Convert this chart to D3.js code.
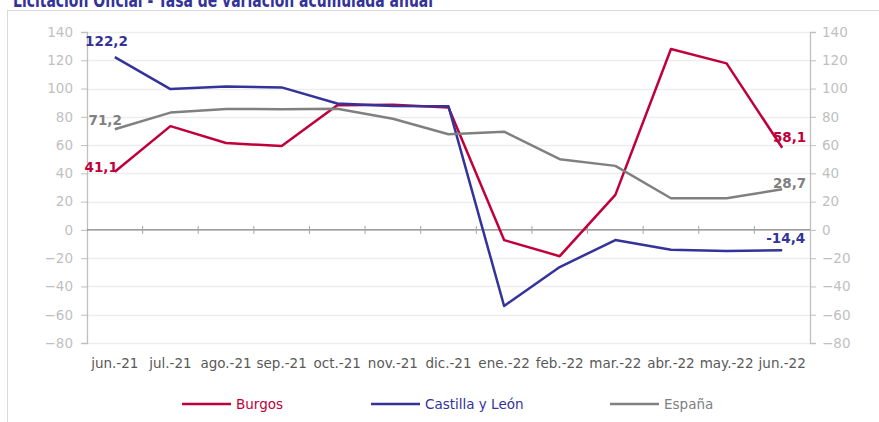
<!DOCTYPE html>
<html>
<head>
<meta charset="utf-8">
<script src="https://cdn.jsdelivr.net/npm/d3@7"></script>
<style>
  body { margin:0; background:#fff; }
  svg text { font-family:"DejaVu Sans", Verdana, sans-serif; }
</style>
</head>
<body>
<div id="chart"></div>
<script>

var months   = ["jun.-21","jul.-21","ago.-21","sep.-21","oct.-21","nov.-21","dic.-21",
                "ene.-22","feb.-22","mar.-22","abr.-22","may.-22","jun.-22"];
var burgos   = [41.1, 73.4, 61.5, 59.3, 88.2, 88.6, 86.6, -7.2, -18.6, 24.8, 128.0, 117.8, 58.1];
var castilla = [122.2, 99.6, 101.5, 100.8, 89.4, 87.6, 87.4, -53.8, -26.3, -7.2, -14.0, -15.0, -14.4];
var espana   = [71.2, 83.0, 85.6, 85.4, 85.7, 78.6, 67.7, 69.5, 50.0, 45.3, 22.4, 22.4, 28.7];
var yTicks   = [-80,-60,-40,-20,0,20,40,60,80,100,120,140];

var series = [
  {name:"Burgos",           values:burgos,   color:"#C0003C", label:"58,1",  first:"41,1"},
  {name:"Castilla y León",  values:castilla, color:"#333399", label:"-14,4", first:"122,2"},
  {name:"España",           values:espana,   color:"#808080", label:"28,7",  first:"71,2"}
];


var W = 879, H = 422;
var margin = {top:32, right:69, bottom:79, left:87};   // plot box 87..810 x 32..343

function plotWidth(){  return W - margin.left - margin.right; }
function plotHeight(){ return H - margin.top  - margin.bottom; }

var width  = plotWidth();
var height = plotHeight();

var svg = d3.select("#chart")
  .append("svg")
    .attr("width",W)
    .attr("height",H);

//......................... Frame + title .......................................
svg.append("rect")
  .attr("x",7.5).attr("y",10.5)
  .attr("width",W).attr("height",H)
  .attr("fill","none")
  .attr("stroke","#D9D9D9");

svg.append("text")
  .attr("x",13).attr("y",7)
  .attr("font-size",20)
  .attr("font-weight","bold")
  .attr("fill","#333399")
  .attr("textLength",420)
  .attr("lengthAdjust","spacingAndGlyphs")
  .text("Licitación Oficial - Tasa de variación acumulada anual");
//-------------------------------------------------------------------------------

var g = svg.append("g")
  .attr("transform","translate("+margin.left+","+margin.top+")");

var x = d3.scaleBand()
  .domain(months)
  .range([0,width]);

var y = d3.scaleLinear()
  .domain([-80,140])
  .range([height,0]);

// grid
g.append("g")
  .attr("class","grid")
  .selectAll("line")
  .data(yTicks.filter(function(d){return d != 0;}))
  .enter()
  .append("line")
  .attr("x1",0).attr("x2",width)
  .attr("y1",function(d){return Math.round(y(d))+0.5})
  .attr("y2",function(d){return Math.round(y(d))+0.5})
  .attr("stroke","#EDEDED")
  .attr("stroke-width",1.5);

// left + right axes
var yLeft = d3.axisLeft(y).tickValues(yTicks).tickSize(6).tickPadding(8);
var yRight = d3.axisRight(y).tickValues(yTicks).tickSize(6).tickPadding(6);

g.append("g").attr("class","y-left").call(yLeft);
g.append("g").attr("class","y-right")
  .attr("transform","translate("+width+",0)")
  .call(yRight);

g.selectAll(".y-left, .y-right")
  .call(function(s){
    s.select(".domain").attr("stroke","#BFBFBF").attr("stroke-width",1.3);
    s.selectAll(".tick line").attr("stroke","#BFBFBF");
    s.selectAll(".tick text")
      .attr("fill","#BFBFBF")
      .attr("font-size",13.5)
      .style("font-family","DejaVu Sans, sans-serif");
  });

// zero line with category ticks
var x0 = g.append("g")
  .attr("class","zero")
  .attr("transform","translate(0,"+y(0)+")");

x0.append("line")
  .attr("x1",0).attr("x2",width)
  .attr("stroke","#808080")
  .attr("stroke-width",1.3);

x0.selectAll(".ctick")
  .data(months.slice(1))
  .enter()
  .append("line")
  .attr("x1",function(d){return x(d)}).attr("x2",function(d){return x(d)})
  .attr("y1",-4).attr("y2",4)
  .attr("stroke","#A6A6A6");

// month labels at bottom
g.append("g")
  .selectAll("text")
  .data(months)
  .enter()
  .append("text")
  .attr("x",function(d){return x(d)+x.bandwidth()/2})
  .attr("y",height+25)
  .attr("text-anchor","middle")
  .attr("font-size",13.5)
  .attr("fill","#595959")
  .text(function(d){return d});

//......................... Lines ...............................................
var line = d3.line()
  .x(function(d,i){return x(months[i])+x.bandwidth()/2})
  .y(function(d){return y(d)});

g.append("g")
  .attr("class","lines")
  .selectAll("path")
  .data(series)
  .enter()
  .append("path")
  .attr("d",function(s){return line(s.values)})
  .attr("fill","none")
  .attr("stroke",function(s){return s.color})
  .attr("stroke-width",2.5)
  .attr("stroke-linejoin","round");

// end labels
var last = months.length-1;
var lastX = x(months[last])+x.bandwidth()/2;
var firstX = x(months[0])+x.bandwidth()/2;

var firstOff = {"Burgos":[3,0], "Castilla y León":[13,-11], "España":[7,-4]};
var lastOff  = {"Burgos":[24,-6], "Castilla y León":[23,-7], "España":[24,-1]};

g.append("g")
  .selectAll("text")
  .data(series)
  .enter()
  .append("text")
  .attr("x",function(s){return firstX+firstOff[s.name][0]})
  .attr("y",function(s){return y(s.values[0])+firstOff[s.name][1]})
  .attr("text-anchor","end")
  .attr("font-size",13.5)
  .attr("font-weight","bold")
  .attr("fill",function(s){return s.color})
  .text(function(s){return s.first});

g.append("g")
  .selectAll("text")
  .data(series)
  .enter()
  .append("text")
  .attr("x",function(s){return lastX+lastOff[s.name][0]})
  .attr("y",function(s){return y(s.values[last])+lastOff[s.name][1]})
  .attr("text-anchor","end")
  .attr("font-size",13.5)
  .attr("font-weight","bold")
  .attr("fill",function(s){return s.color})
  .text(function(s){return s.label});
//-------------------------------------------------------------------------------

//......................... Legend ..............................................
var legendX = [182,371,610];
var legend = svg.append("g")
  .attr("class","legend")
  .selectAll("g")
  .data(series)
  .enter()
  .append("g")
  .attr("transform",function(s,i){return "translate("+legendX[i]+",404)"});

legend.append("line")
  .attr("x1",0).attr("x2",49)
  .attr("stroke",function(s){return s.color})
  .attr("stroke-width",2.5);

legend.append("text")
  .attr("x",54)
  .attr("y",5)
  .attr("font-size",13.5)
  .attr("fill",function(s){return s.name == "España" ? "#808080" : s.color})
  .text(function(s){return s.name});
//-------------------------------------------------------------------------------

</script>
</body>
</html>
